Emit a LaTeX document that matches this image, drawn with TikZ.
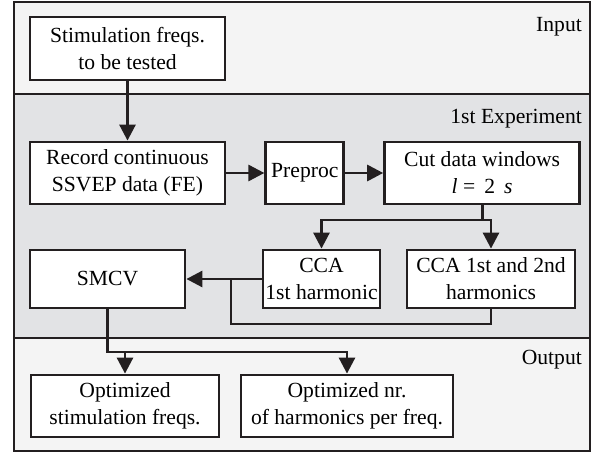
\documentclass[tikz,border=0pt]{standalone}
\usepackage{fontspec}
\setmainfont{Liberation Serif}
\usetikzlibrary{arrows.meta,positioning}
\definecolor{cin}{HTML}{F4F4F4}
\definecolor{cexp}{HTML}{E2E3E5}
\definecolor{cline}{HTML}{231F20}
\tikzset{
  band/.style={draw=cline, line width=2.4pt},
  fbox/.style={draw=cline, fill=white, line width=2.8pt, align=center,
               inner sep=0pt, font=\fontsize{21.6}{27}\selectfont},
  tag/.style={anchor=base east, inner sep=0pt, font=\fontsize{21.6}{27}\selectfont},
  flow/.style={-{Triangle[length=16pt,width=16pt]}, line width=2.8pt, draw=cline},
  link/.style={line width=2.8pt, draw=cline},
}

\begin{document}
\begin{tikzpicture}[x=1pt, y=1pt, node distance=38pt and 38pt]
  \useasboundingbox (0,0) rectangle (600,452);
  % bands
  \filldraw[band, fill=cin]  (14,450) rectangle (590,358);
  \filldraw[band, fill=cexp] (14,358) rectangle (590,114);
  \filldraw[band, fill=cin]  (14,114) rectangle (590,1);
  \node[tag] (tin)  at (582,420) {Input};
  \node[tag] (texp) at (582,328) {1st Experiment};
  \node[tag] (tout) at (582,87)  {Output};
  % boxes
  \node[fbox, minimum width=195pt, minimum height=63pt] (stim) at (127.5,403.5)
    {Stimulation freqs.\\to be tested};
  \node[fbox, minimum width=195pt, minimum height=62pt] (rec) at (127.5,279)
    {Record continuous\\SSVEP data (FE)};
  \node[fbox, minimum width=78pt, minimum height=62pt, right=of rec] (pre) {Preproc};
  \node[fbox, minimum width=195pt, minimum height=62pt, right=of pre] (cut)
    {Cut data windows\\{\itshape l} =\ \,2\ \,{\itshape s}};
  \node[fbox, minimum width=117pt, minimum height=58pt] (cca1) at (321.5,173)
    {CCA\\1st harmonic};
  \node[fbox, minimum width=168pt, minimum height=58pt] (cca2) at (491,173)
    {CCA 1st and 2nd\\harmonics};
  \node[fbox, minimum width=155pt, minimum height=58pt] (smcv) at (107.5,173) {SMCV};
  \node[fbox, minimum width=188pt, minimum height=62pt] (opt1) at (125,46)
    {Optimized\\stimulation freqs.};
  \node[fbox, minimum width=212pt, minimum height=62pt] (opt2) at (347,46)
    {Optimized nr.\\of harmonics per freq.};
  % connectors
  \coordinate (split) at (477.5,232);
  \coordinate (loop)  at (231,128);
  \coordinate (merge) at (108,100);
  \draw[flow] (stim) -- (rec);
  \draw[flow] (rec) -- (pre);
  \draw[flow] (pre) -- (cut);
  \draw[link] (cut.south) -- (cut.south |- split);
  \draw[flow] (cut.south |- split) -| (cca1.north);
  \draw[flow] (cut.south |- split) -| (cca2.north);
  \draw[flow] (cca1.west) -- (smcv.east);
  \draw[link] (cca2.south) |- (loop) -- (loop |- cca1.west);
  \draw[link] (smcv.south) |- (opt1.north |- merge);
  \draw[flow] (opt1.north |- merge) -| (opt2.north);
  \draw[flow] (opt1.north |- merge) -- (opt1.north);
\end{tikzpicture}
\end{document}
